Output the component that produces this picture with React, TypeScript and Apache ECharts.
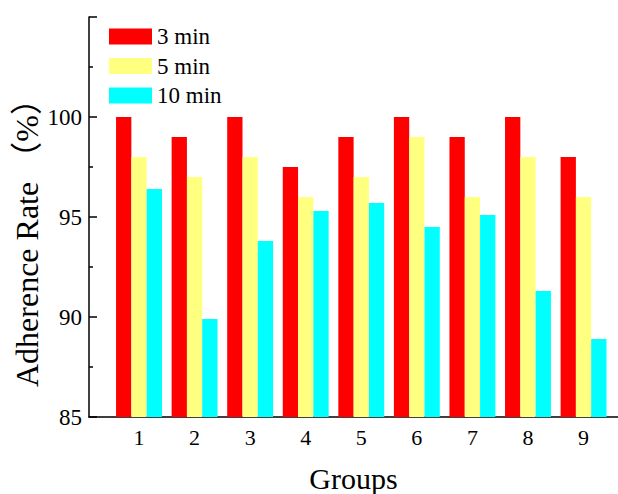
import React, { useEffect, useRef } from "react";
import * as echarts from "echarts";

const groups = [1, 2, 3, 4, 5, 6, 7, 8, 9];
const seriesNames = ["3 min", "5 min", "10 min"];
const rate3 = [100, 99, 100, 97.5, 99, 100, 99, 100, 98];
const rate5 = [98, 97, 98, 96, 97, 99, 96, 98, 96];
const rate10 = [96.4, 89.9, 93.8, 95.3, 95.7, 94.5, 95.1, 91.3, 88.9];
const colors = ["#FF0000", "#FFFF80", "#00FFFF"];
const yTicks = [85, 90, 95, 100];
const yTitle = "Adherence Rate （%）";
const xTitle = "Groups";

const FONT = "'Liberation Serif', 'Times New Roman', 'Noto Sans CJK SC', serif";

export default function App() {
  const ref = useRef<HTMLDivElement>(null);
  useEffect(() => {
    if (!ref.current) return;
    const chart = echarts.init(ref.current, null, { renderer: "svg" });
    const allSeries = [rate3, rate5, rate10];
    chart.setOption({
      animation: false,
      backgroundColor: "#ffffff",
      textStyle: { fontFamily: FONT },
      legend: {
        orient: "vertical",
        left: 109,
        top: 25,
        padding: 0,
        itemWidth: 43,
        itemHeight: 16,
        itemGap: 6.5,
        icon: "rect",
        data: seriesNames,
        textStyle: { fontFamily: FONT, fontSize: 23, color: "#000" },
      },
      graphic: [
        {
          type: "text",
          x: 26.5,
          y: 387,
          rotation: Math.PI / 2,
          style: {
            text: yTitle,
            fontFamily: FONT,
            fontSize: 32,
            fill: "#000",
            textAlign: "left",
            textVerticalAlign: "middle",
          },
        },
      ],
      grid: { left: 89, right: 0, top: 17, bottom: 77, outerBoundsMode: "none" },
      xAxis: {
        type: "value",
        min: 0.1,
        max: 9.62,
        name: xTitle,
        nameLocation: "middle",
        nameGap: 46,
        nameTextStyle: { fontFamily: FONT, fontSize: 30, color: "#000" },
        axisLine: { show: true, lineStyle: { color: "#000", width: 1.5 } },
        axisTick: { show: true, inside: true, length: 7, customValues: groups, lineStyle: { color: "#000", width: 1.5 } },
        axisLabel: { customValues: groups, fontFamily: FONT, fontSize: 22, color: "#000", margin: 9 },
        splitLine: { show: false },
      },
      yAxis: {
        type: "value",
        min: 85,
        max: 105,
        interval: 5,
        axisLine: { show: true, lineStyle: { color: "#000", width: 1.5 } },
        axisTick: { show: true, inside: true, length: 8, lineStyle: { color: "#000", width: 1.5 } },
        minorTick: { show: true, splitNumber: 2, length: 4, lineStyle: { color: "#000", width: 1.5 } },
        axisLabel: {
          fontFamily: FONT,
          fontSize: 23,
          color: "#000",
          margin: 7,
          formatter: (v: number) => (yTicks.includes(v) ? String(v) : ""),
        },
        splitLine: { show: false },
      },
      series: seriesNames.map((name, i) => ({
        name,
        type: "bar",
        barWidth: 15.3,
        barGap: "0%",
        itemStyle: { color: colors[i] },
        data: groups.map((g, j) => [g, allSeries[i][j]]),
      })),
    });
    return () => chart.dispose();
  }, []);
  return (
    <div
      ref={ref}
      style={{ position: "fixed", left: 0, top: 0, width: 618, height: 494 }}
    />
  );
}
